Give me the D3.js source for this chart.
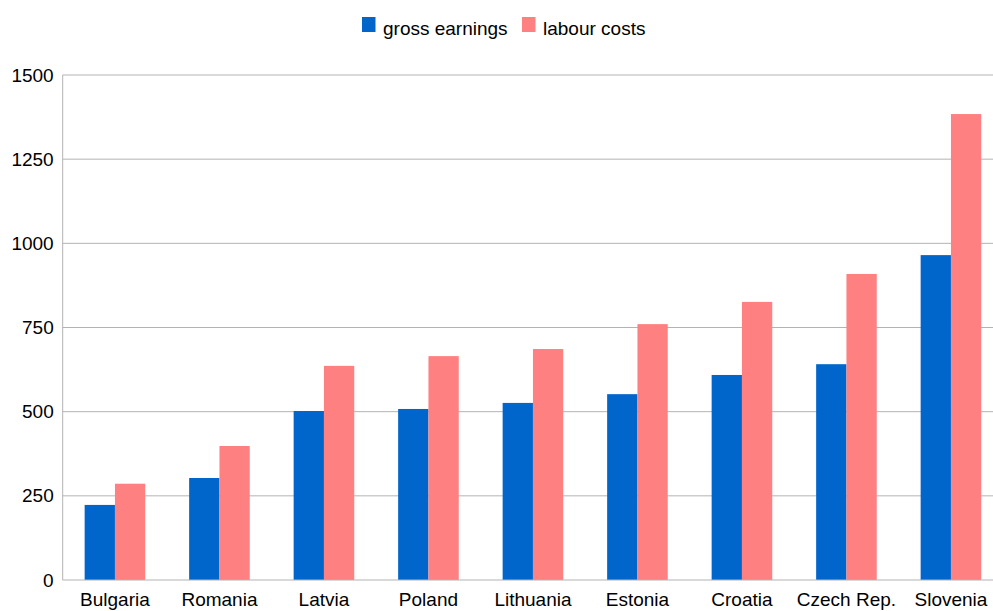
<!DOCTYPE html>
<html>
<head>
<meta charset="utf-8">
<script src="https://cdn.jsdelivr.net/npm/d3@7"></script>
<style>
  html, body { margin: 0; padding: 0; background: #fff; }
  svg { display: block; }
  text { font-family: "Liberation Sans", Arial, sans-serif; fill: #000; }
</style>
</head>
<body>
<svg id="chart" width="993" height="611"></svg>
<script>
// Monthly gross earnings vs. labour costs by country
const countries = ["Bulgaria", "Romania", "Latvia", "Poland", "Lithuania", "Estonia", "Croatia", "Czech Rep.", "Slovenia"];
const grossEarnings = [223, 303, 502, 508, 526, 552, 609, 641, 965];
const labourCosts = [286, 398, 636, 665, 686, 760, 826, 909, 1384];
const seriesNames = ["gross earnings", "labour costs"];
const yTicks = [0, 250, 500, 750, 1000, 1250, 1500];

const colors = ["#0066cc", "#ff8080"];

const svg = d3.select("#chart");
const plotLeft = 62.7, plotRight = 1003.2, plotTop = 75, plotBottom = 580;

const x = d3.scaleBand()
  .domain(countries)
  .range([plotLeft, plotRight])
  .paddingInner(0.42)
  .paddingOuter(0.21);

const xSeries = d3.scaleBand()
  .domain(seriesNames)
  .range([0, x.bandwidth()]);

const y = d3.scaleLinear().domain([0, 1500]).range([plotBottom, plotTop]);

// horizontal grid lines
svg.append("g")
  .selectAll("line")
  .data(yTicks.filter(d => d > 0))
  .join("line")
  .attr("x1", plotLeft).attr("x2", plotRight)
  .attr("y1", d => y(d)).attr("y2", d => y(d))
  .attr("stroke", "#b3b3b3").attr("stroke-width", 1);

// bars
const data = countries.map((c, i) => ({ country: c, values: [grossEarnings[i], labourCosts[i]] }));
svg.append("g")
  .selectAll("g")
  .data(data)
  .join("g")
  .attr("transform", d => `translate(${x(d.country)},0)`)
  .selectAll("rect")
  .data(d => d.values.map((v, k) => ({ name: seriesNames[k], value: v, k })))
  .join("rect")
  .attr("x", d => xSeries(d.name))
  .attr("width", xSeries.bandwidth())
  .attr("y", d => y(d.value))
  .attr("height", d => y(0) - y(d.value))
  .attr("fill", d => colors[d.k]);

// axis lines
svg.append("line")
  .attr("x1", plotLeft).attr("x2", plotLeft).attr("y1", plotTop).attr("y2", plotBottom)
  .attr("stroke", "#b3b3b3").attr("stroke-width", 1);
svg.append("line")
  .attr("x1", plotLeft).attr("x2", plotRight).attr("y1", plotBottom).attr("y2", plotBottom)
  .attr("stroke", "#b3b3b3").attr("stroke-width", 1);

// y tick labels
const yAxis = d3.axisLeft(y).tickValues(yTicks).tickFormat(d3.format("d")).tickSize(0).tickPadding(9);
const gy = svg.append("g").attr("transform", `translate(${plotLeft},0)`).call(yAxis);
gy.select(".domain").remove();
gy.selectAll("text").attr("font-size", 19).attr("font-family", "Liberation Sans, Arial, sans-serif").attr("fill", "#000");

// x tick labels
const xAxis = d3.axisBottom(x).tickSize(0).tickPadding(13);
const gx = svg.append("g").attr("transform", `translate(0,${plotBottom})`).call(xAxis);
gx.select(".domain").remove();
gx.selectAll("text").attr("font-size", 19).attr("font-family", "Liberation Sans, Arial, sans-serif").attr("fill", "#000");

// legend
const legend = svg.append("g").attr("transform", "translate(362,17)");
const items = [{ name: seriesNames[0], x: 0 }, { name: seriesNames[1], x: 160 }];
items.forEach((it, k) => {
  legend.append("rect").attr("x", it.x).attr("y", 0).attr("width", 13.5).attr("height", 15).attr("fill", colors[k]);
  legend.append("text").attr("x", it.x + 21).attr("y", 18)
    .attr("font-size", 19).text(it.name);
});
</script>
</body>
</html>
